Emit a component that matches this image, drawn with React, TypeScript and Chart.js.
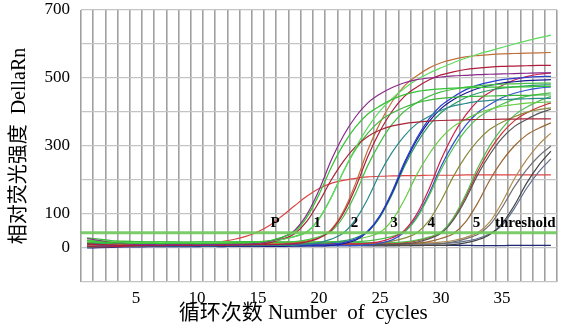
import React, { useEffect, useRef } from 'react';
import { Chart, registerables } from 'chart.js';

Chart.register(...registerables);

// ---------- data ----------
const cycles = [1,2,3,4,5,6,7,8,9,10,11,12,13,14,15,16,17,18,19,20,21,22,23,24,25,26,27,28,29,30,31,32,33,34,35,36,37,38,39];
const xMin = 0.5;
const xMax = 39.5;
const yMin = -100;
const yMax = 700;
const xTickLabels = [5, 10, 15, 20, 25, 30, 35];
const yTickLabels = [0, 100, 300, 500, 700];
const thresholdValue = 45;
const markerTexts = ['P', '1', '2', '3', '4', '5', 'threshold'];
const markerCycles = [16.4, 19.85, 22.9, 26.15, 29.2, 32.9, 36.9];
const markerLevel = 74;

// group P
const curveA = [22,18,16,15,14,14,13,14,14,13,14,14,15,15,17,22,32,48,90,157,237,304,356,394,418,437,451,460,465,468,470,471,472,473,473,474,474,475,475];
const curveB = [28,22,16,13,11,10,10,10,11,10,10,11,11,12,14,20,31,52,98,170,258,330,386,427,453,472,486,495,500,503,506,508,510,511,512,513,514,515,515];
const curveC = [20,18,17,16,16,15,16,16,15,16,16,17,17,16,17,20,25,33,46,85,148,225,295,355,403,440,470,495,514,530,545,558,570,580,590,600,609,618,626];
const curveD = [5,3,4,5,6,7,7,8,8,8,9,8,9,9,11,16,26,42,78,135,200,255,298,328,347,359,366,370,373,375,376,377,378,378,379,379,380,380,380];
const curveE = [30,26,22,20,19,18,18,18,17,18,18,18,19,19,19,21,26,34,48,86,149,225,290,338,374,397,414,427,435,440,443,445,446,447,448,449,449,450,450];
// group 1
const curveF = [12,10,9,8,8,9,9,9,8,9,9,10,9,10,10,10,11,13,18,29,52,102,178,269,344,403,446,473,494,509,518,525,529,532,534,535,536,537,537];
const curveG = [18,16,15,15,14,15,15,14,15,15,15,16,15,16,16,16,17,19,24,33,49,92,160,243,310,364,402,427,446,459,467,473,477,480,482,483,484,485,485];
const curveH = [8,9,10,11,11,12,12,12,12,12,13,12,13,13,13,13,14,16,21,31,55,108,190,288,368,431,477,506,529,545,555,562,566,569,571,572,573,574,575];
const curveI = [2,3,4,5,5,6,6,6,6,7,6,7,7,7,7,8,8,8,11,16,26,44,84,145,220,282,330,365,387,405,418,425,431,434,436,438,439,440,440];
// group 2
const curveJ = [10,8,7,6,6,6,7,7,7,7,7,8,7,8,8,8,8,9,9,9,11,16,26,50,96,167,252,323,379,419,444,465,479,488,495,499,502,504,505];
const curveK = [0,1,2,3,3,4,4,4,4,4,5,4,5,5,5,5,5,6,6,6,8,13,23,48,94,163,247,317,371,410,436,455,469,478,485,489,492,494,495];
const curveL = [14,13,12,12,12,11,12,12,12,12,12,12,13,13,13,13,13,14,14,14,16,21,30,48,91,158,240,307,360,398,422,442,455,464,470,474,477,479,480];
const curveM = [24,21,19,18,17,16,16,16,16,16,16,17,16,17,17,17,17,18,18,18,18,20,25,33,46,82,142,215,275,323,357,378,396,408,417,422,426,428,430];
// group 3
const curveN = [4,6,7,8,9,9,10,10,10,10,10,10,10,11,11,11,11,11,11,12,12,12,12,14,19,30,52,99,172,260,333,390,432,458,478,494,504,511,515];
const curveO = [22,20,19,18,18,17,17,17,17,17,17,17,17,18,18,18,18,18,18,18,19,19,19,21,26,34,48,87,152,230,294,345,382,405,423,437,446,452,456];
const curveP = [6,5,5,5,5,5,5,5,5,6,5,6,6,6,6,6,6,6,7,7,7,7,7,9,14,24,47,91,158,240,307,360,398,422,442,455,464,470,474];
const curveQ = [18,15,13,12,12,11,11,11,11,11,11,11,11,12,12,12,12,12,12,12,12,13,13,13,15,20,29,44,80,139,210,269,315,349,370,386,399,407,412];
// group 4
const curveR = [16,15,15,14,14,14,14,14,14,14,14,14,14,15,15,15,15,15,15,15,15,15,16,16,16,16,18,23,32,47,89,155,235,301,352,390,414,432,446];
const curveS = [12,10,9,9,8,8,8,8,8,8,8,8,8,8,9,9,9,9,9,9,9,9,9,10,10,10,12,17,27,43,82,142,215,275,323,357,378,396,408];
const curveT = [3,6,8,10,11,12,12,12,12,12,12,12,12,12,12,13,13,13,13,13,13,13,13,13,14,14,16,21,30,45,86,149,225,288,338,374,397,414,427];
const curveU = [14,12,11,10,10,10,10,10,10,10,10,10,10,10,10,11,11,11,11,11,11,11,11,11,12,12,12,14,19,28,42,76,132,200,256,300,332,352,368];
// group 5
const curveV = [11,10,9,9,9,9,9,9,9,9,9,9,9,9,9,9,10,10,10,10,10,10,10,10,10,10,10,11,11,13,18,27,40,68,119,180,230,270,300];
const curveW = [15,14,13,13,13,13,13,13,13,13,13,13,13,13,13,13,13,14,14,14,14,14,14,14,14,14,14,15,15,17,22,31,45,77,134,203,259,304,338];
const curveX = [8,7,6,6,6,6,6,6,6,6,6,6,6,6,6,6,6,6,7,7,7,7,7,7,7,7,7,7,8,8,10,15,24,40,72,125,190,243,285];
const curveY = [13,12,11,11,11,11,11,11,11,11,11,11,11,11,11,11,11,11,11,12,12,12,12,12,12,12,12,12,12,13,15,20,28,42,67,116,175,224,262];
// slow red curve and flat negative control
const curveZ = [2,3,4,5,6,7,8,9,10,12,15,19,25,34,48,68,95,124,152,175,190,199,205,209,211,212,213,213,214,214,214,215,215,215,215,215,215,215,215];
const curveNeg = [9,8,8,7,7,7,8,8,8,7,7,8,8,8,8,7,7,8,8,8,8,8,8,7,7,7,8,8,8,8,8,8,7,7,7,8,8,8,8];

const seriesList = [
  { v: curveA, c: '#33c433' }, { v: curveB, c: '#8a2a8a' }, { v: curveC, c: '#5fdc5f' },
  { v: curveD, c: '#a82238' }, { v: curveE, c: '#3db83d' }, { v: curveF, c: '#b01c3c' },
  { v: curveG, c: '#44c044' }, { v: curveH, c: '#c0703a' }, { v: curveI, c: '#2a8a8a' },
  { v: curveJ, c: '#2b3fd0' }, { v: curveK, c: '#1a1a90' }, { v: curveL, c: '#2a9a6a' },
  { v: curveM, c: '#66cc44' }, { v: curveN, c: '#d0204a' }, { v: curveO, c: '#4cc04c' },
  { v: curveP, c: '#3050d0' }, { v: curveQ, c: '#8a8a3a' }, { v: curveR, c: '#55bb55' },
  { v: curveS, c: '#555555' }, { v: curveT, c: '#cc3030' }, { v: curveU, c: '#996633' },
  { v: curveV, c: '#707070' }, { v: curveW, c: '#b08a50' }, { v: curveX, c: '#444444' },
  { v: curveY, c: '#607090' }, { v: curveZ, c: '#dd4444' }, { v: curveNeg, c: '#202878' },
];

const serif = '"Liberation Serif", "Times New Roman", serif';
const titleFont = '"Liberation Serif", "Noto Sans CJK SC", serif';

const markerPlugin = {
  id: 'markers',
  afterDatasetsDraw(chart: any) {
    const { ctx, scales } = chart;
    ctx.save();
    ctx.font = `bold 15px ${serif}`;
    ctx.fillStyle = '#000';
    ctx.textAlign = 'center';
    ctx.textBaseline = 'middle';
    markerTexts.forEach((t, i) => {
      ctx.fillText(t, scales.x.getPixelForValue(markerCycles[i]), scales.y.getPixelForValue(markerLevel));
    });
    ctx.restore();
  },
};

export default function App() {
  const ref = useRef<HTMLCanvasElement>(null);
  useEffect(() => {
    document.body.style.margin = '0';
    const gridTicks: number[] = [];
    for (let v = xMin; v <= xMax + 1e-9; v += 1) gridTicks.push(v);

    const datasets: any[] = [
      {
        data: [{ x: xMin, y: thresholdValue }, { x: xMax, y: thresholdValue }],
        borderColor: 'rgba(110,200,90,0.9)',
        borderWidth: 3,
        pointRadius: 0,
      },
      ...seriesList.map((s) => ({
        data: s.v,
        borderColor: s.c,
        borderWidth: 1.2,
        pointRadius: 0,
        tension: 0.4,
        cubicInterpolationMode: 'monotone',
      })),
    ];

    const chart = new Chart(ref.current as HTMLCanvasElement, {
      type: 'line',
      data: { labels: cycles, datasets },
      plugins: [markerPlugin],
      options: {
        animation: false,
        responsive: false,
        devicePixelRatio: 1,
        layout: { padding: { top: 10, right: 4, left: 0, bottom: 0 } },
        plugins: { legend: { display: false }, tooltip: { enabled: false } },
        scales: {
          x: {
            type: 'linear',
            min: xMin,
            max: xMax,
            weight: 0,
            position: 'bottom',
            afterBuildTicks: (s: any) => { s.ticks = gridTicks.map((v) => ({ value: v })); },
            afterFit: (s: any) => { s.height = 0; s.paddingLeft = 0; s.paddingRight = 0; },
            ticks: { display: false },
            grid: { color: '#a0a0a0', lineWidth: 1.6, drawTicks: false },
            border: { display: false },
          },
          x2: {
            type: 'linear',
            min: xMin,
            max: xMax,
            weight: 1,
            position: 'bottom',
            afterBuildTicks: (s: any) => { s.ticks = xTickLabels.map((v) => ({ value: v })); },
            afterFit: (s: any) => { s.height = 44; s.paddingLeft = 0; s.paddingRight = 0; },
            ticks: { autoSkip: false, maxRotation: 0, padding: 6, color: '#000', font: { family: serif, size: 17 } },
            grid: { display: false, drawTicks: false },
            border: { display: false },
            title: {
              display: true,
              text: '循环次数 Number  of  cycles      ',
              color: '#000',
              font: { family: titleFont, size: 21 },
              padding: { top: 0, bottom: 0 },
            },
          },
          y: {
            type: 'linear',
            min: yMin,
            max: yMax,
            afterFit: (s: any) => { s.width = 81; s.paddingTop = 0; s.paddingBottom = 0; },
            ticks: {
              stepSize: 100,
              padding: 11,
              color: '#000',
              font: { family: serif, size: 17 },
              callback: (v: any) => (yTickLabels.includes(Number(v)) ? String(v) : ''),
            },
            grid: { color: '#c4c4c4', lineWidth: 1.2, drawTicks: false },
            border: { display: false },
            title: {
              display: true,
              text: '相对荧光强度  DellaRn',
              color: '#000',
              font: { family: titleFont, size: 20 },
              padding: { top: 8, bottom: 0 },
            },
          },
        },
      } as any,
    });
    return () => chart.destroy();
  }, []);

  return (
    <div style={{ width: 561, height: 326, background: '#fff' }}>
      <canvas ref={ref} width={561} height={326} style={{ display: 'block' }} />
    </div>
  );
}
